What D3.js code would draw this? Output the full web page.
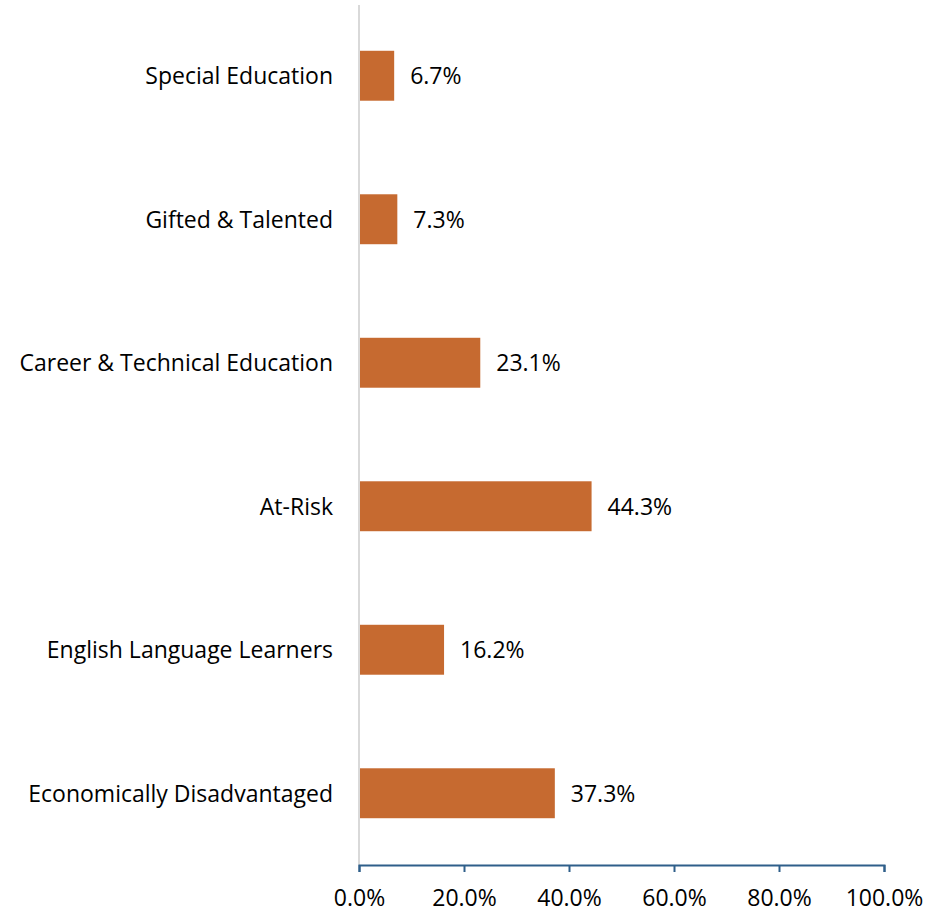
<!DOCTYPE html>
<html>
<head>
<meta charset="utf-8">
<script src="https://cdn.jsdelivr.net/npm/d3@7"></script>
<style>
  body { margin: 0; background: #fff; }
  text { font-family: "Open Sans", sans-serif; fill: #000; }
</style>
</head>
<body>
<div id="chart"></div>
<script>
// categories top to bottom
const categories = [
  "Special Education",
  "Gifted & Talented",
  "Career & Technical Education",
  "At-Risk",
  "English Language Learners",
  "Economically Disadvantaged"
];
const values = [6.7, 7.3, 23.1, 44.3, 16.2, 37.3];
const tickValues = [0, 20, 40, 60, 80, 100];

const width = 942, height = 913;
const margin = { top: 4, right: 58, bottom: 48, left: 359 };
const fontSize = "23px";

const svg = d3.select("#chart").append("svg")
  .attr("width", width)
  .attr("height", height);

const x = d3.scaleLinear()
  .domain([0, 100])
  .range([margin.left, width - margin.right]);

const y = d3.scaleBand()
  .domain(categories)
  .range([margin.top, height - margin.bottom])
  .paddingInner(0.652)
  .paddingOuter(0.326);

// vertical category axis line
svg.append("line")
  .attr("x1", x(0)).attr("x2", x(0))
  .attr("y1", 5).attr("y2", height - margin.bottom)
  .attr("stroke", "#d9d9d9")
  .attr("stroke-width", 2);

// bars
svg.selectAll(".bar")
  .data(values)
  .enter().append("rect")
  .attr("class", "bar")
  .attr("x", x(0) + 1)
  .attr("y", (d, i) => y(categories[i]))
  .attr("width", d => x(d) - x(0) - 1)
  .attr("height", y.bandwidth())
  .attr("fill", "#c66a30");

// value labels
svg.selectAll(".val")
  .data(values)
  .enter().append("text")
  .attr("class", "val")
  .attr("x", d => x(d) + 16)
  .attr("y", (d, i) => y(categories[i]) + y.bandwidth() / 2)
  .attr("dy", "0.36em")
  .style("font-size", fontSize)
  .text(d => d.toFixed(1) + "%");

// category labels
svg.selectAll(".cat")
  .data(categories)
  .enter().append("text")
  .attr("class", "cat")
  .attr("x", margin.left - 26)
  .attr("y", d => y(d) + y.bandwidth() / 2)
  .attr("dy", "0.36em")
  .attr("text-anchor", "end")
  .style("font-size", fontSize)
  .text(d => d);

// bottom axis
const xAxis = d3.axisBottom(x)
  .tickValues(tickValues)
  .tickSize(7)
  .tickSizeOuter(7)
  .tickFormat(d => d.toFixed(1) + "%");

const gx = svg.append("g")
  .attr("transform", "translate(0," + (height - margin.bottom) + ")")
  .call(xAxis);

gx.selectAll("path, line")
  .attr("stroke", "#2f5f8a")
  .attr("stroke-width", 2);
gx.selectAll("text")
  .attr("y", 25)
  .style("font-size", fontSize)
  .style("font-family", "'Open Sans', sans-serif")
  .attr("fill", "#000");
</script>
</body>
</html>
